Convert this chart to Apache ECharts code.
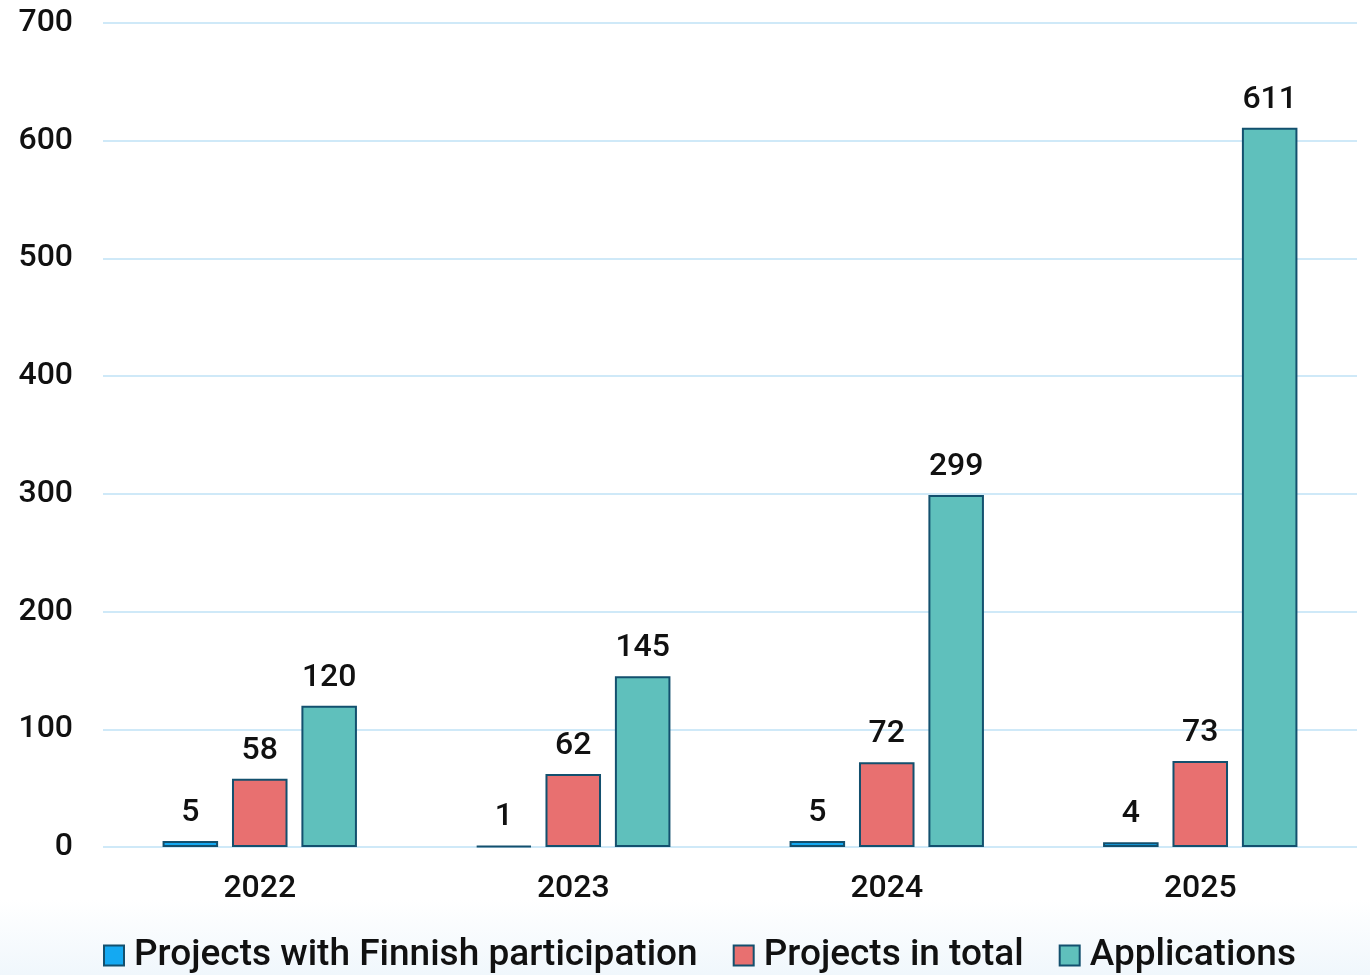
<!DOCTYPE html>
<html style="height: 100%">
<head>
    <meta charset="UTF-8">
    <title>Projects and applications</title>
</head>
<body style="height: 100%; margin: 0">
<div id="container" style="width: 1370px; height: 975px"></div>

<script type="text/javascript" src="https://cdn.jsdelivr.net/npm/echarts@6/dist/echarts.min.js"></script>
<script type="text/javascript">
    var years = ['2022', '2023', '2024', '2025'];
    var finnish = [5, 1, 5, 4];
    var total = [58, 62, 72, 73];
    var applications = [120, 145, 299, 611];

    var dom = document.getElementById("container");
    var myChart = echarts.init(dom);
    var font = 'Roboto';
    var edge = '#13506e';

    function barSeries(name, data, color) {
        return {
            name: name,
            type: 'bar',
            data: data,
            barGap: '25%',
            barCategoryGap: '38%',
            itemStyle: {color: color, borderColor: edge, borderWidth: 2},
            label: {
                show: true,
                position: 'top',
                distance: 12,
                color: '#111',
                fontFamily: font,
                fontWeight: 500,
                fontSize: 32
            }
        };
    }

    var option = {
        backgroundColor: '#ffffff',
        animation: false,
        graphic: [{
            type: 'rect',
            z: -10,
            shape: {x: 0, y: 900, width: 1370, height: 75},
            style: {
                fill: new echarts.graphic.LinearGradient(0, 0, 0, 1, [
                    {offset: 0, color: '#ffffff'},
                    {offset: 1, color: '#f0f7fc'}
                ])
            }
        }],
        grid: {left: 103, right: 13, top: 23, bottom: 128},
        legend: {
            bottom: -4,
            left: 98,
            itemWidth: 20,
            itemHeight: 20,
            itemGap: 35,
            icon: 'rect',
            itemStyle: {borderColor: edge, borderWidth: 2},
            textStyle: {
                fontFamily: font,
                fontSize: 37,
                fontWeight: 500,
                color: '#111',
                padding: [0, 0, 0, 5]
            },
            data: ['Projects with Finnish participation', 'Projects in total', 'Applications']
        },
        xAxis: {
            type: 'category',
            data: years,
            axisLine: {show: false},
            axisTick: {show: false},
            axisLabel: {
                margin: 26,
                color: '#111',
                fontFamily: font,
                fontWeight: 500,
                fontSize: 32
            }
        },
        yAxis: {
            type: 'value',
            min: 0,
            max: 700,
            interval: 100,
            axisLabel: {
                margin: 30,
                color: '#111',
                fontFamily: font,
                fontWeight: 500,
                fontSize: 32
            },
            splitLine: {lineStyle: {color: '#cfe9f8', width: 2}}
        },
        series: [
            barSeries('Projects with Finnish participation', finnish, '#14a9f2'),
            barSeries('Projects in total', total, '#e87070'),
            barSeries('Applications', applications, '#5fc0bc')
        ]
    };

    myChart.setOption(option);
</script>
</body>
</html>
